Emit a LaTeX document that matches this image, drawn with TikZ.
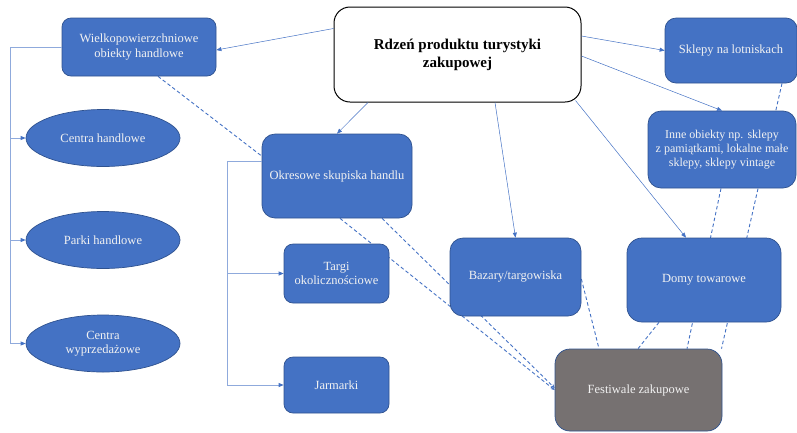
\documentclass[tikz,border=0pt]{standalone}
\usepackage{fontspec}
\setmainfont{Liberation Serif}
\usetikzlibrary{arrows.meta,backgrounds,shapes.geometric}
\definecolor{boxblue}{HTML}{4472C4}
\definecolor{boxedge}{HTML}{2F528F}
\definecolor{linkblue}{HTML}{4472C4}
\definecolor{bracket}{HTML}{8FAADC}
\definecolor{festgrey}{HTML}{767171}
\definecolor{boxtext}{HTML}{F2F2F2}
\begin{document}
\begin{tikzpicture}[x=1pt,y=-1pt,
  bluebox/.style={draw=boxedge, line width=0.7pt, fill=boxblue, rounded corners=11pt,
    text=boxtext, align=center, inner sep=2pt, font=\fontsize{12.5}{14.5}\selectfont},
  blueell/.style={ellipse, draw=boxedge, line width=0.7pt, fill=boxblue,
    text=boxtext, align=center, inner sep=0pt, font=\fontsize{12.5}{14.5}\selectfont,
    minimum width=154pt, minimum height=57pt},
  titlebox/.style={draw=black, line width=1pt, fill=white, rounded corners=16pt,
    align=center, font=\fontsize{15}{18}\selectfont\bfseries},
  solidarrow/.style={draw=linkblue, line width=0.5pt, -{Triangle[length=5pt,width=4pt]}},
  bracketline/.style={draw=bracket, line width=0.7pt},
  bracketarrow/.style={draw=bracket, line width=0.7pt, -{Triangle[length=5pt,width=4pt,color=linkblue]}},
  dashlink/.style={draw=boxblue, line width=0.9pt, dash pattern=on 3.5pt off 2.5pt},
]
\useasboundingbox (0,0) rectangle (797,432);

% nodes
\node[titlebox, minimum width=247pt, minimum height=95pt] (rdzen) at (457.5,54.5)
  {Rdzeń produktu turystyki\\zakupowej};
\node[bluebox, rounded corners=9pt, minimum width=154pt, minimum height=58pt] (wiel) at (139,47)
  {Wielkopowierzchniowe\\obiekty handlowe};
\node[blueell] (ch) at (103,138) {Centra handlowe};
\node[blueell] (ph) at (103,240) {Parki handlowe};
\node[blueell] (cw) at (103,343.5) {Centra\\wyprzedażowe};
\node[bluebox, rounded corners=13pt, minimum width=150pt, minimum height=84pt] (okr) at (337,176)
  {Okresowe skupiska handlu};
\node[bluebox, rounded corners=9pt, minimum width=105pt, minimum height=59pt] (targi) at (336.5,273.5)
  {Targi\\okolicznościowe};
\node[bluebox, rounded corners=9pt, minimum width=105pt, minimum height=56pt] (jarm) at (336.5,385)
  {Jarmarki};
\node[bluebox, rounded corners=13pt, minimum width=131pt, minimum height=78pt] (baz) at (515.5,277)
  {Bazary/targowiska};
\node[bluebox, rounded corners=15pt, minimum width=154pt, minimum height=84pt] (domy) at (704,280)
  {Domy towarowe};
\node[bluebox, rounded corners=15pt, fill=festgrey, minimum width=167pt, minimum height=82pt] (fest) at (638.5,390)
  {Festiwale zakupowe};
\node[bluebox, rounded corners=11pt, minimum width=132pt, minimum height=65pt] (skl) at (731,50.5)
  {Sklepy na lotniskach};
\node[bluebox, rounded corners=13pt, minimum width=148pt, minimum height=77pt,
  font=\fontsize{12}{14}\selectfont] (inne) at (722,149.5)
  {Inne obiekty np. sklepy\\z pamiątkami, lokalne małe\\sklepy, sklepy vintage};

% dashed links behind boxes
\begin{scope}[on background layer]
  \draw[dashlink] ([xshift=19pt]wiel.south) -- ([yshift=20pt]okr.west);
  \draw[dashlink, -{Stealth[length=4pt,width=3.5pt]}] ([xshift=3pt]okr.south) -- (fest.west);
  \draw[dashlink, -{Stealth[length=4pt,width=3.5pt]}] ([xshift=45pt]okr.south) -- ([yshift=2pt]fest.west);
  \draw[dashlink] ([yshift=-2pt]baz.east) -- ([xshift=-39.5pt]fest.north);
  \draw[dashlink] ([xshift=-45pt]domy.south) -- ([xshift=-0.5pt]fest.north);
  \draw[dashlink] ([xshift=-1pt]inne.south) -- ([xshift=48.5pt]fest.north);
  \draw[dashlink] ([xshift=51pt]skl.south) -- ([xshift=83pt]fest.north);
\end{scope}

% solid arrows from the core
\draw[solidarrow] ([yshift=26pt]rdzen.west) -- ([yshift=-3pt]wiel.east);
\draw[solidarrow] ([xshift=-89.5pt]rdzen.south) -- (okr.north);
\draw[solidarrow] ([yshift=18.5pt]rdzen.east) -- (skl.west);
\draw[solidarrow] ([yshift=-1.5pt]rdzen.east) -- (inne.north);
\draw[solidarrow] ([xshift=37.5pt]rdzen.south) -- (baz.north);
\draw[solidarrow] ([xshift=-6pt,yshift=2pt]rdzen.south east) -- ([xshift=-18pt]domy.north);

% left bracket
\coordinate (lb1) at (10,47);
\coordinate (lb2) at (10,138);
\coordinate (lb3) at (10,240);
\coordinate (lb4) at (10,343.5);
\draw[bracketline] (wiel.west) -- (lb1) -- (lb4);
\draw[bracketarrow] (lb2) -- (ch.west);
\draw[bracketarrow] (lb3) -- (ph.west);
\draw[bracketarrow] (lb4) -- (cw.west);

% middle bracket
\coordinate (mb1) at (227,161);
\coordinate (mb2) at (227,273.5);
\coordinate (mb3) at (227,385);
\draw[bracketline] ([yshift=15pt]okr.west) -- (mb1) -- (mb3);
\draw[bracketarrow] (mb2) -- (targi.west);
\draw[bracketarrow] (mb3) -- (jarm.west);
\end{tikzpicture}
\end{document}
